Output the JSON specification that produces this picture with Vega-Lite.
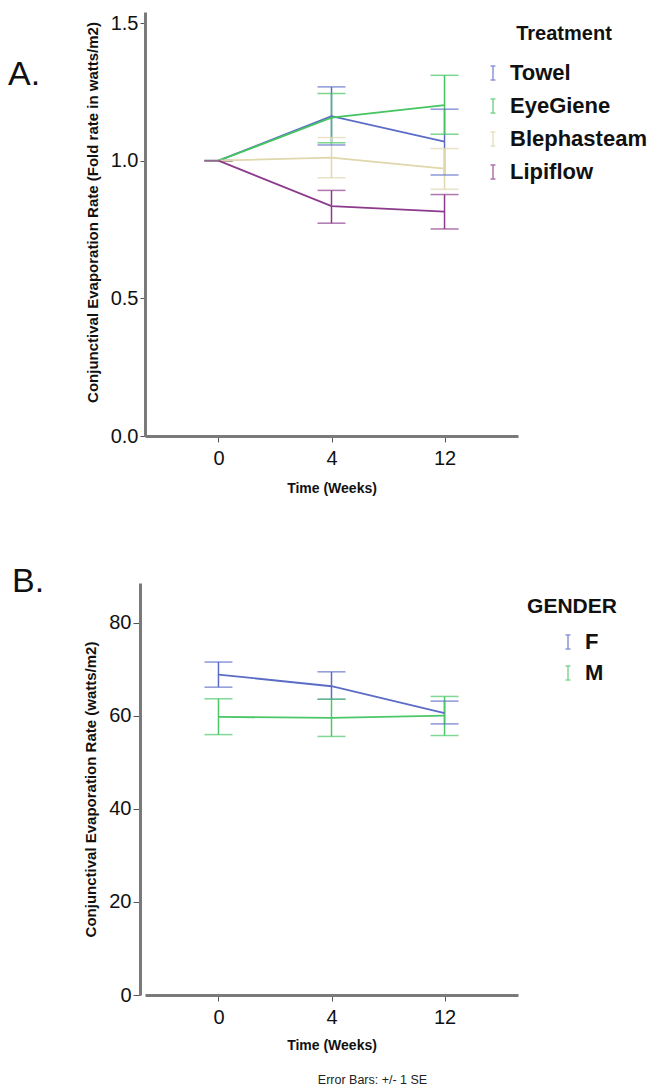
{
  "$schema": "https://vega.github.io/schema/vega-lite/v6.json",
  "padding": {"left": 8, "top": 12, "right": 0, "bottom": 0},
  "background": "white",
  "config": {
    "font": "Liberation Sans",
    "view": {"stroke": null},
    "axis": {
      "grid": false,
      "domainColor": "#7a7a7a",
      "domainWidth": 3,
      "tickColor": "#555555",
      "tickSize": 6,
      "labelFontSize": 20,
      "labelColor": "#111111",
      "labelFont": "Liberation Sans",
      "titleFont": "Liberation Sans",
      "titleFontSize": 14,
      "titleFontWeight": "bold",
      "titleColor": "#111111"
    },
    "legend": {
      "orient": "none",
      "titleFont": "Liberation Sans",
      "labelFont": "Liberation Sans",
      "titleFontWeight": "bold",
      "labelFontWeight": "bold",
      "titleColor": "#111111",
      "labelColor": "#111111",
      "titleAnchor": "middle",
      "symbolType": "M-0.35,-1H0.35M0,-1V1M-0.35,1H0.35",
      "symbolSize": 196,
      "symbolStrokeWidth": 1.5,
      "symbolFillColor": "transparent",
      "labelFontSize": 22,
      "rowPadding": 11,
      "labelOffset": 6
    }
  },
  "datasets": {
    "treat": [
      {"time": "0", "group": "Towel", "mean": 1.0, "lo": 1.0, "hi": 1.0},
      {"time": "4", "group": "Towel", "mean": 1.162, "lo": 1.057, "hi": 1.268},
      {"time": "12", "group": "Towel", "mean": 1.069, "lo": 0.948, "hi": 1.187},
      {"time": "0", "group": "EyeGiene", "mean": 1.0, "lo": 1.0, "hi": 1.0},
      {"time": "4", "group": "EyeGiene", "mean": 1.156, "lo": 1.065, "hi": 1.244},
      {"time": "12", "group": "EyeGiene", "mean": 1.202, "lo": 1.096, "hi": 1.31},
      {"time": "0", "group": "Blephasteam", "mean": 1.0, "lo": 1.0, "hi": 1.0},
      {"time": "4", "group": "Blephasteam", "mean": 1.011, "lo": 0.938, "hi": 1.084},
      {"time": "12", "group": "Blephasteam", "mean": 0.971, "lo": 0.896, "hi": 1.044},
      {"time": "0", "group": "Lipiflow", "mean": 1.0, "lo": 1.0, "hi": 1.0},
      {"time": "4", "group": "Lipiflow", "mean": 0.835, "lo": 0.773, "hi": 0.892},
      {"time": "12", "group": "Lipiflow", "mean": 0.815, "lo": 0.752, "hi": 0.877}
    ],
    "gender": [
      {"time": "0", "group": "F", "mean": 68.9, "lo": 66.2, "hi": 71.6},
      {"time": "4", "group": "F", "mean": 66.4, "lo": 63.6, "hi": 69.5},
      {"time": "12", "group": "F", "mean": 60.6, "lo": 58.3, "hi": 63.2},
      {"time": "0", "group": "M", "mean": 59.8, "lo": 56.0, "hi": 63.7},
      {"time": "4", "group": "M", "mean": 59.6, "lo": 55.6, "hi": 63.6},
      {"time": "12", "group": "M", "mean": 60.1, "lo": 55.8, "hi": 64.2}
    ]
  },
  "bounds": "flush",
  "spacing": 147,
  "resolve": {"scale": {"color": "independent"}},
  "title": {
    "text": "Error Bars: +/- 1 SE",
    "orient": "bottom",
    "anchor": "middle",
    "fontSize": 12.5,
    "fontWeight": "normal",
    "color": "#222222",
    "offset": 22,
    "dx": 45
  },
  "vconcat": [
    {
      "width": 373,
      "height": 424,
      "title": {"text": "A.", "orient": "top", "anchor": "start", "frame": "group", "fontSize": 34, "fontWeight": "normal", "color": "#111111", "dx": -137, "dy": 84},
      "data": {"name": "treat"},
      "encoding": {
        "x": {
          "field": "time", "type": "ordinal", "sort": ["0", "4", "12"],
          "scale": {"type": "point", "padding": 0.65},
          "axis": {"title": "Time (Weeks)", "labelAngle": 0, "labelPadding": 6, "titlePadding": 13}
        },
        "color": {
          "field": "group", "type": "nominal", "sort": ["Towel", "EyeGiene", "Blephasteam", "Lipiflow"],
          "scale": {"domain": ["Towel", "EyeGiene", "Blephasteam", "Lipiflow"], "range": ["#5b6cc6", "#45c460", "#e0d7ad", "#8c3a8c"]},
          "legend": {"title": "Treatment", "titleFontSize": 20, "legendX": 337, "legendY": 12, "titlePadding": 18}
        }
      },
      "layer": [
        {
          "mark": {"type": "rule", "strokeWidth": 1.5},
          "encoding": {
            "y": {"field": "lo", "type": "quantitative", "scale": {"domain": [0, 1.54], "nice": false},
              "axis": {"title": "Conjunctival Evaporation Rate (Fold rate in watts/m2)", "titleFontSize": 15, "titleY": 200, "values": [0, 0.5, 1, 1.5], "format": ".1f", "tickSize": 5, "labelPadding": 2, "titlePadding": 10}},
            "y2": {"field": "hi"}
          }
        },
        {
          "mark": {"type": "tick", "thickness": 1.5, "size": 28},
          "encoding": {"y": {"field": "lo", "type": "quantitative"}}
        },
        {
          "mark": {"type": "tick", "thickness": 1.5, "size": 28},
          "encoding": {"y": {"field": "hi", "type": "quantitative"}}
        },
        {
          "mark": {"type": "line", "strokeWidth": 1.8},
          "encoding": {"y": {"field": "mean", "type": "quantitative"}}
        }
      ]
    },
    {
      "width": 373,
      "height": 412,
      "title": {"text": "B.", "orient": "top", "anchor": "start", "frame": "group", "fontSize": 34, "fontWeight": "normal", "color": "#111111", "dx": -133, "dy": 20},
      "data": {"name": "gender"},
      "encoding": {
        "x": {
          "field": "time", "type": "ordinal", "sort": ["0", "4", "12"],
          "scale": {"type": "point", "padding": 0.65},
          "axis": {"title": "Time (Weeks)", "labelAngle": 0, "labelPadding": 6, "titlePadding": 11}
        },
        "color": {
          "field": "group", "type": "nominal",
          "scale": {"domain": ["F", "M"], "range": ["#5b6cc6", "#4cc86a"]},
          "legend": {"title": "GENDER", "titleFontSize": 21, "legendX": 382, "legendY": 13, "titlePadding": 14, "rowPadding": 9, "symbolOffset": 17}
        }
      },
      "layer": [
        {
          "mark": {"type": "rule", "strokeWidth": 1.5},
          "encoding": {
            "y": {"field": "lo", "type": "quantitative", "scale": {"domain": [0, 88.6], "nice": false},
              "axis": {"title": "Conjunctival Evaporation Rate (watts/m2)", "titleFontSize": 15, "values": [0, 20, 40, 60, 80], "offset": 5, "tickSize": 7, "labelPadding": 2, "titlePadding": 10}},
            "y2": {"field": "hi"}
          }
        },
        {
          "mark": {"type": "tick", "thickness": 1.5, "size": 28},
          "encoding": {"y": {"field": "lo", "type": "quantitative"}}
        },
        {
          "mark": {"type": "tick", "thickness": 1.5, "size": 28},
          "encoding": {"y": {"field": "hi", "type": "quantitative"}}
        },
        {
          "mark": {"type": "line", "strokeWidth": 1.8},
          "encoding": {"y": {"field": "mean", "type": "quantitative"}}
        }
      ]
    }
  ]
}
